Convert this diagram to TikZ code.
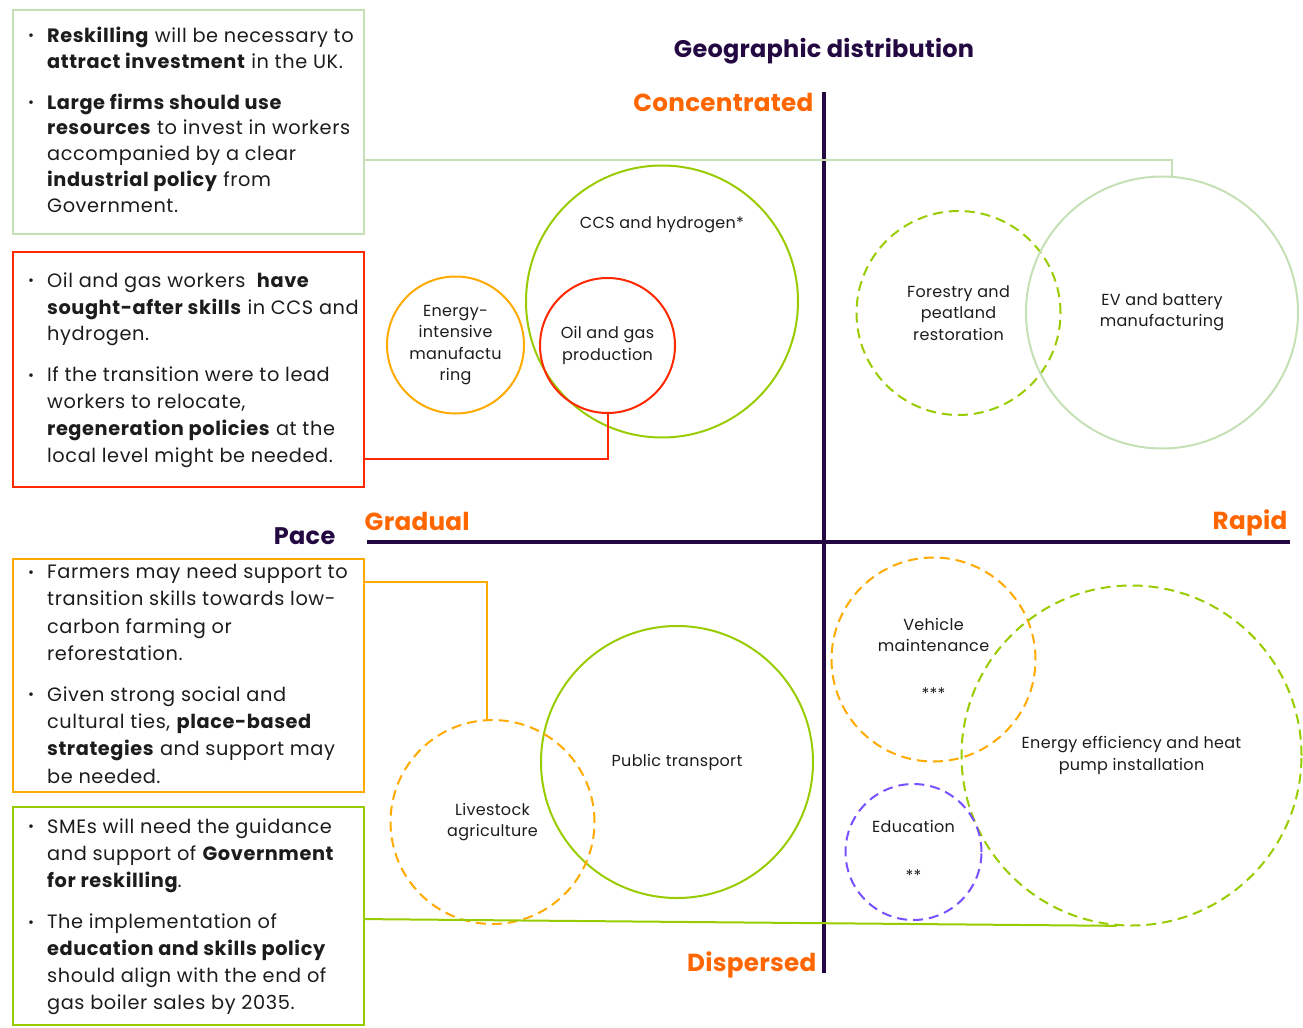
\documentclass[tikz,border=0pt]{standalone}
\usepackage{fontspec}
\setmainfont{Poppins}
\usepackage{xcolor}
\usetikzlibrary{positioning,calc}
\definecolor{axispurple}{RGB}{35,8,66}
\definecolor{labelorange}{RGB}{255,102,0}
\definecolor{palegreen}{RGB}{197,224,180}
\definecolor{limegreen}{RGB}{153,204,0}
\definecolor{alertred}{RGB}{255,40,0}
\definecolor{amber}{RGB}{255,170,0}
\definecolor{eduviolet}{RGB}{120,80,255}
\definecolor{inkgrey}{RGB}{28,28,28}

% fonts for the note boxes and the bubbles
\newcommand{\boxfont}[1]{\fontsize{14.5pt}{#1}\selectfont\addfontfeatures{LetterSpace=3}}
\newcommand{\bubblefont}{\fontsize{12pt}{16pt}\selectfont\addfontfeatures{LetterSpace=2}}
\newcommand{\bul}{\raisebox{0.15ex}{\scalebox{0.75}{\textbullet}}}
% bullet list set flush left inside a note box
\newcommand{\notelist}[1]{\makebox[263pt][l]{\hspace{11.25pt}%
  \raisebox{-1.5pt}{\begin{tabular}{@{}p{14.25pt}@{}l@{}}#1\end{tabular}}}}

\tikzset{
  notebox/.style={draw, line width=1.5pt, inner sep=0pt, anchor=north west,
    minimum width=263.25pt, text=inkgrey},
  bubble/.style={circle, draw, line width=1.5pt, inner sep=0pt, align=center,
    font=\bubblefont, text=inkgrey},
  dashedbubble/.style={bubble, dash pattern=on 7.5pt off 4.5pt},
  bubbletext/.style={align=center, font=\bubblefont, text=inkgrey},
  axislabel/.style={font=\fontsize{18pt}{20pt}\selectfont\bfseries\addfontfeatures{LetterSpace=1},
    text=axispurple},
  endlabel/.style={font=\fontsize{18.5pt}{20pt}\selectfont\bfseries\addfontfeatures{LetterSpace=1},
    text=labelorange},
  link/.style={line width=1.5pt}
}

\begin{document}
\begin{tikzpicture}[x=0.75pt, y=-0.75pt]
  \useasboundingbox (0,0) rectangle (1303,1028);

  % Note boxes on the left
  \node[notebox, draw=palegreen, minimum height=168pt] (reskill) at (12,9)
    {\boxfont{19.3pt}\notelist{%
      \bul & \textbf{Reskilling} will be necessary to\\
           & \textbf{attract investment} in the UK.\\[11.5pt]
      \bul & \textbf{Large firms should use}\\
           & \textbf{resources} to invest in workers\\
           & accompanied by a clear\\
           & \textbf{industrial policy} from\\
           & Government.}};
  \node[notebox, draw=alertred, minimum height=176.25pt] (oilnote) at (12,251)
    {\boxfont{20.2pt}\notelist{%
      \bul & Oil and gas workers \ \textbf{have}\\
           & \textbf{sought-after skills} in CCS and\\
           & hydrogen.\\[10.5pt]
      \bul & If the transition were to lead\\
           & workers to relocate,\\
           & \textbf{regeneration policies} at the\\
           & local level might be needed.}};
  \node[notebox, draw=amber, minimum height=174.75pt] (farmnote) at (12,558)
    {\boxfont{20.4pt}\notelist{%
      \bul & Farmers may need support to\\
           & transition skills towards low-\\
           & carbon farming or\\
           & reforestation.\\[10.5pt]
      \bul & Given strong social and\\
           & cultural ties, \textbf{place-based}\\
           & \textbf{strategies} and support may\\
           & be needed.}};
  \node[notebox, draw=limegreen, minimum height=163.5pt] (smenote) at (12,806)
    {\boxfont{20.2pt}\notelist{%
      \bul & SMEs will need the guidance\\
           & and support of \textbf{Government}\\
           & \textbf{for reskilling}.\\[11pt]
      \bul & The implementation of\\
           & \textbf{education and skills policy}\\
           & should align with the end of\\
           & gas boiler sales by 2035.}};

  % Axes
  \coordinate (ytop) at (824,92);
  \coordinate (ybot) at (824,973);
  \coordinate (xleft) at (367,542);
  \coordinate (xright) at (1290,542);
  \draw[line width=3pt, axispurple] (ytop) -- (ybot);
  \draw[line width=3pt, axispurple] (xleft) -- (xright);

  % Axis labels
  \node[axislabel] (geo) at (824,51) {Geographic distribution};
  \node[axislabel, anchor=east] (pace) at (340,536) {Pace};
  \node[endlabel, anchor=east] (conc) at (818,102) {Concentrated};
  \node[endlabel, anchor=east] (disp) at (821,965) {Dispersed};
  \node[endlabel, anchor=west] (grad) at (360,521) {Gradual};
  \node[endlabel, anchor=east] (rapid) at (1292,523) {Rapid};

  % Concentrated, gradual
  \node[bubble, draw=limegreen, minimum size=204pt] (ccs) at (662,301.5) {};
  \node[bubbletext] (ccslabel) at (662,225) {CCS and hydrogen*};
  \node[bubble, draw=alertred, minimum size=101.25pt] (oil) at (607.5,345.5)
    {Oil and gas\\production};
  \node[bubble, draw=amber, minimum size=102.75pt] (eim) at (455.5,345)
    {Energy-\\intensive\\manufactu\\ring};

  % Concentrated, rapid
  \node[dashedbubble, draw=limegreen, minimum size=153pt] (forest) at (958.5,313)
    {Forestry and\\peatland\\restoration};
  \node[bubble, draw=palegreen, minimum size=204pt] (ev) at (1162,312.5)
    {EV and battery\\manufacturing};

  % Dispersed, gradual
  \node[bubble, draw=limegreen, minimum size=204pt] (transport) at (677,762)
    {Public transport};
  \node[dashedbubble, draw=amber, minimum size=153pt] (livestock) at (492.5,822)
    {Livestock\\agriculture};

  % Dispersed, rapid
  \node[dashedbubble, draw=amber, minimum size=153pt] (vehicle) at (933.5,659.5) {};
  \node[bubbletext] (vehiclelabel) at (933.5,635) {Vehicle\\maintenance};
  \node[bubbletext] (vehiclestars) at (933.5,694) {***};
  \node[dashedbubble, draw=limegreen, minimum size=255pt] (ee) at (1131.5,755.5)
    {Energy efficiency and heat\\pump installation};
  \node[dashedbubble, draw=eduviolet, minimum size=102pt] (edu) at (913.5,852) {};
  \node[bubbletext] (edulabel) at (913.5,826) {Education};
  \node[bubbletext] (edustars) at (913.5,876) {**};

  % Connectors from notes to bubbles
  \draw[link, palegreen] (reskill.-12) -| (ev.86);
  \draw[link, alertred] (oilnote.-27) -| (oil.south);
  \draw[link, amber] (farmnote.28) -| (livestock.93);
  \draw[link, limegreen] (smenote.-1) -- (ee.-95);
\end{tikzpicture}
\end{document}
